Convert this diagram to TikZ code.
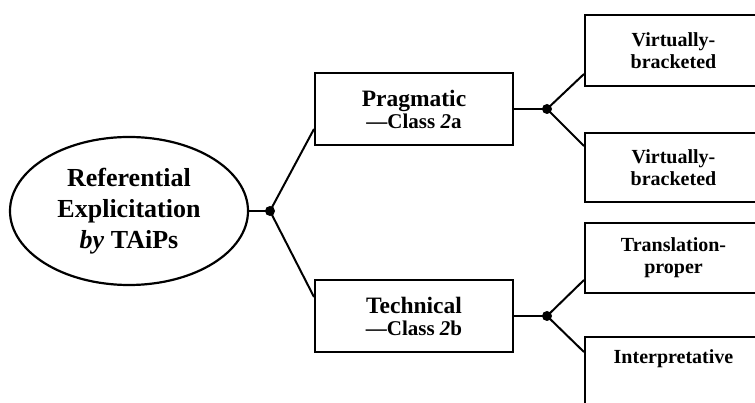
\documentclass[tikz,border=0pt]{standalone}
\usepackage{fontspec}
\setmainfont{Liberation Serif}
\usetikzlibrary{shapes.geometric}
\begin{document}
\begin{tikzpicture}[x=1pt,y=-1pt,
  box/.style={draw, line width=2pt, rectangle, inner sep=0pt, align=center},
  mid/.style={box, minimum width=198pt, minimum height=72pt, font=\bfseries\fontsize{23.5}{22}\selectfont},
  leaf/.style={box, minimum width=177pt, font=\bfseries\fontsize{20}{22}\selectfont},
  conn/.style={line width=2pt},
  dot/.style={circle, fill, inner sep=0pt, minimum size=10pt}]
\useasboundingbox (0,0) rectangle (755,403);
\clip (0,0) rectangle (755,403);
\node[ellipse, draw, line width=2.2pt, minimum width=238pt, minimum height=148pt, inner sep=0pt, align=center,
  font=\bfseries\fontsize{26}{31}\selectfont] (ell) at (129,211) {Referential\\Explicitation\\\textit{by} TAiPs};
\node[dot] (dotA) at (270,211) {};
\node[mid] (prag) at (414,109) {Pragmatic\\{\fontsize{21}{22}\selectfont ---Class \textit{2}a}};
\node[mid] (tech) at (414,316) {Technical\\{\fontsize{21}{22}\selectfont ---Class \textit{2}b}};
\node[dot] (dotP) at (547,109) {};
\node[dot] (dotT) at (547,316) {};
\node[leaf, minimum height=71pt] (leaf1) at (673.5,50.5) {Virtually-\\bracketed};
\node[leaf, minimum height=69pt] (leaf2) at (673.5,167.5) {Virtually-\\bracketed};
\node[leaf, minimum height=70pt] (leaf3) at (673.5,258) {Translation-\\proper};
\node[leaf, minimum height=80pt] (leaf4) at (673.5,377) {};
\node[anchor=base, inner sep=0pt, font=\bfseries\fontsize{20}{22}\selectfont] (interp) at (673.5,363) {Interpretative};
\draw[conn] (ell.east) -- (dotA.center);
\draw[conn] (dotA.center) -- ([yshift=17pt]prag.south west);
\draw[conn] (dotA.center) -- ([yshift=-18pt]tech.north west);
\draw[conn] (prag.east) -- (dotP.center);
\draw[conn] (tech.east) -- (dotT.center);
\draw[conn] (dotP.center) -- ([yshift=13pt]leaf1.south west);
\draw[conn] (dotP.center) -- ([yshift=-14pt]leaf2.north west);
\draw[conn] (dotT.center) -- ([yshift=14pt]leaf3.south west);
\draw[conn] (dotT.center) -- ([yshift=-16pt]leaf4.north west);
\end{tikzpicture}
\end{document}
